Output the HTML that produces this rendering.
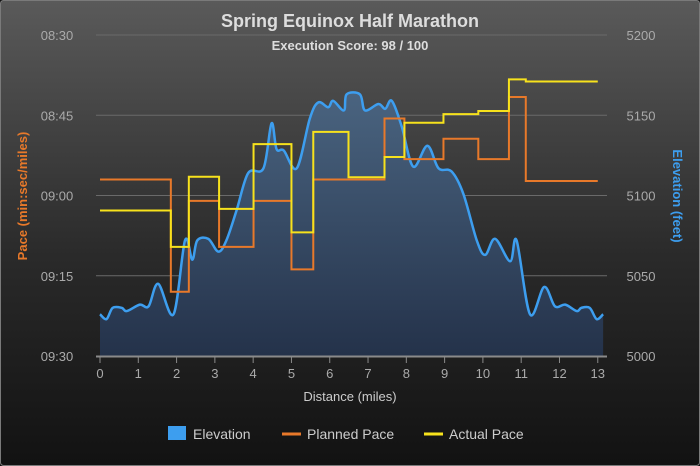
<!DOCTYPE html>
<html><head><meta charset="utf-8"><style>
html,body{margin:0;padding:0;background:#111;}
svg{display:block;font-family:"Liberation Sans","DejaVu Sans",sans-serif;}
</style></head><body>
<svg id="chart" width="700" height="466" viewBox="0 0 700 466" xmlns="http://www.w3.org/2000/svg">
<defs>
<linearGradient id="bg" x1="0" y1="0" x2="0" y2="1">
<stop offset="0" stop-color="#5a5a5a"/><stop offset="0.55" stop-color="#2a2a2a"/><stop offset="1" stop-color="#121212"/>
</linearGradient>
<linearGradient id="area" x1="0" y1="0" x2="0" y2="1">
<stop offset="0" stop-color="#4a6480"/><stop offset="1" stop-color="#24324a"/>
</linearGradient>
</defs>
<rect x="0.5" y="0.5" width="699" height="465" rx="3" fill="url(#bg)" stroke="#7a7a7a"/>
<text x="350" y="27" text-anchor="middle" font-size="18" font-weight="bold" fill="#dddddd">Spring Equinox Half Marathon</text>
<text x="350" y="50" text-anchor="middle" font-size="13" font-weight="bold" fill="#dddddd">Execution Score: 98 / 100</text>
<g id="grid"></g>
<g id="marks"></g>
<g id="axes"></g>
<text x="350" y="401" text-anchor="middle" font-size="13" fill="#cccccc">Distance (miles)</text>
<text transform="translate(27,196) rotate(-90)" text-anchor="middle" font-size="13" font-weight="bold" fill="#e8792a">Pace (min:sec/miles)</text>
<text transform="translate(673,196) rotate(90)" text-anchor="middle" font-size="13" font-weight="bold" fill="#3d9eef">Elevation (feet)</text>
<g>
<g>
<rect x="168" y="426" width="18" height="14" fill="#3d9eef"/>
<text x="193" y="439" font-size="14" fill="#cccccc">Elevation</text></g>
<g>
<line x1="282" y1="434" x2="301" y2="434" stroke="#e8792a" stroke-width="3"/>
<text x="307" y="439" font-size="14" fill="#cccccc">Planned Pace</text></g>
<g>
<line x1="424" y1="434" x2="443" y2="434" stroke="#f7e21c" stroke-width="3"/>
<text x="449" y="439" font-size="14" fill="#cccccc">Actual Pace</text></g>
</g>
</svg>
<script>
// Step boundaries (miles) for pace segments
const segStarts = [0,1.85,2.32,3.11,4.01,5.0,5.57,6.49,7.43,7.95,8.97,9.88,10.68,11.12];
const segEnd = 13.0;
// pace values in seconds per mile
const plannedPace = [537,558,541,549.6,541,553.8,537,537,525.6,533.2,529.4,533.2,521.6,537.3];
const actualPace  = [542.8,549.6,536.5,542.5,530.4,546.9,528.1,536.6,532.8,526.4,524.8,524.2,518.3,518.7];
// elevation profile
const elevMiles = [0,0.17,0.33,0.57,0.7,1.04,1.27,1.52,1.92,2.22,2.41,2.54,2.83,3.09,3.3,3.57,3.87,4.27,4.48,4.61,4.8,5.14,5.48,5.7,5.96,6.09,6.37,6.44,6.79,6.92,7.27,7.45,7.62,7.88,8.18,8.55,8.84,9.18,9.49,9.84,10.06,10.32,10.71,10.88,11.23,11.6,11.88,12.15,12.45,12.57,12.79,12.97,13.14];
const elevFeet = [5026,5023,5030,5030,5028,5032,5031,5045,5026,5072,5060,5072,5073,5065,5072,5091,5114,5117,5145,5129,5128,5117,5148,5158,5155,5159,5153,5163,5163,5153,5157,5154,5159,5143,5118,5131,5117,5115,5101,5072,5063,5073,5059,5072,5026,5043,5031,5032,5028,5030,5030,5023,5026];
const xTicks = [0,1,2,3,4,5,6,7,8,9,10,11,12,13];
const paceTicks = [510,525,540,555,570];
const paceTickLabels = ["08:30","08:45","09:00","09:15","09:30"];
const elevTicks = [5000,5050,5100,5150,5200];

const NS="http://www.w3.org/2000/svg";
const X0=100, XPM=38.29, YT=35, YB=356;
const xs=m=>X0+m*XPM;
const yPace=s=>YT+(s-510)/60*(YB-YT);
const yElev=f=>YB-(f-5000)/200*(YB-YT);
function mk(tag,attrs,parent){const e=document.createElementNS(NS,tag);for(const k in attrs)e.setAttribute(k,attrs[k]);parent.appendChild(e);return e;}
const grid=document.getElementById('grid'),marks=document.getElementById('marks'),axes=document.getElementById('axes');

paceTicks.forEach((t,i)=>{
  const y=yPace(t);
  if(i<paceTicks.length-1){const l=mk('line',{x1:96,x2:607,y1:y,y2:y,stroke:'#6a6a6a','stroke-width':1},grid);
  
  }
  const tx=mk('text',{x:57,y:y+5,'text-anchor':'middle','font-size':13,fill:'#aaaaaa'},axes);
  tx.textContent=paceTickLabels[i];
  
  
});
elevTicks.forEach(t=>{
  const tx=mk('text',{x:641,y:yElev(t)+5,'text-anchor':'middle','font-size':13,fill:'#aaaaaa'},axes);
  tx.textContent=t;
  
  
});

// elevation smooth path (Catmull-Rom)
const pts=elevMiles.map((m,i)=>[xs(m),yElev(elevFeet[i])]);
let d=`M${pts[0][0]},${pts[0][1]}`;
for(let i=0;i<pts.length-1;i++){
  const p0=pts[Math.max(0,i-1)],p1=pts[i],p2=pts[i+1],p3=pts[Math.min(pts.length-1,i+2)];
  const c1=[p1[0]+(p2[0]-p0[0])/6,p1[1]+(p2[1]-p0[1])/6];
  const c2=[p2[0]-(p3[0]-p1[0])/6,p2[1]-(p3[1]-p1[1])/6];
  d+=` C${c1[0]},${c1[1]} ${c2[0]},${c2[1]} ${p2[0]},${p2[1]}`;
}
const last=pts[pts.length-1];
const area=mk('path',{d:d+` L${last[0]},${YB} L${pts[0][0]},${YB} Z`,fill:'url(#area)'},marks);


const eline=mk('path',{d:d,fill:'none',stroke:'#3d9eef','stroke-width':2.5},marks);



function stepPath(vals){
  let p='';
  vals.forEach((v,i)=>{
    const x1=xs(segStarts[i]),x2=xs(i<segStarts.length-1?segStarts[i+1]:segEnd),y=yPace(v);
    p+=(i===0?`M${x1},${y}`:` L${x1},${y}`)+` L${x2},${y}`;
  });
  return p;
}
const pl=mk('path',{d:stepPath(plannedPace),fill:'none',stroke:'#e8792a','stroke-width':2},marks);


const al=mk('path',{d:stepPath(actualPace),fill:'none',stroke:'#f7e21c','stroke-width':2},marks);



const ax=mk('line',{x1:96,x2:607,y1:YB+0.5,y2:YB+0.5,stroke:'#8a8a8a','stroke-width':2},axes);


xTicks.forEach(t=>{
  const x=xs(t);
  const tk=mk('line',{x1:x,x2:x,y1:YB,y2:YB+7,stroke:'#8a8a8a','stroke-width':1},axes);
  
  
  const tx=mk('text',{x:x,y:YB+22,'text-anchor':'middle','font-size':13,fill:'#aaaaaa'},axes);
  tx.textContent=t;
  
  
});
</script>
</body></html>
